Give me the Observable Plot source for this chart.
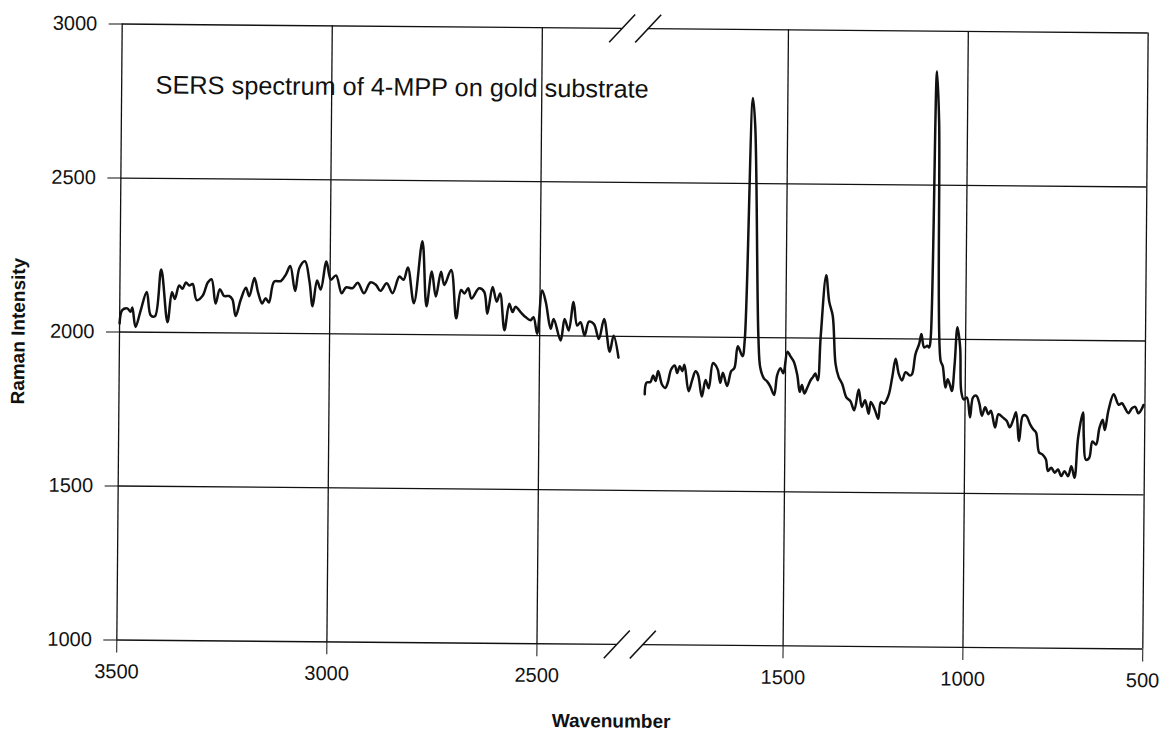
<!DOCTYPE html>
<html><head><meta charset="utf-8">
<script src="https://cdn.jsdelivr.net/npm/d3@7"></script>
<script src="https://cdn.jsdelivr.net/npm/@observablehq/plot@0.6"></script>
<style>html,body{margin:0;padding:0;background:#fff;overflow:hidden}#chart svg{display:block;transform:rotate(0.5deg);transform-origin:632px 336px}</style>
</head><body><div id="chart"></div>
<script>
// High-wavenumber segment (3500 – ~2310 cm-1)
const highWavenumber = [3500,3494,3482,3474,3470,3462,3450,3436,3426,3416,3402,3386,3376,3369,3359,3351,3343,3335,3327,3317,3303,3291,3282,3272,3262,3252,3240,3232,3224,3212,3200,3192,3180,3171,3161,3153,3145,3133,3117,3105,3095,3083,3073,3060,3049,3041,3031,3022,3009,2998,2986,2972,2962,2946,2934,2919,2904,2891,2880,2865,2851,2835,2825,2815,2800,2781,2770,2758,2748,2736,2728,2712,2699,2688,2680,2671,2663,2645,2633,2625,2613,2603,2595,2584,2573,2565,2558,2546,2534,2522,2515,2506,2495,2486,2474,2467,2450,2441,2431,2420,2411,2403,2393,2383,2371,2359,2347,2333,2324,2312];
const highIntensity = [2028,2071,2077,2066,2080,2017,2071,2131,2055,2052,2204,2033,2131,2109,2153,2142,2163,2153,2158,2106,2120,2163,2174,2095,2142,2120,2120,2109,2055,2109,2147,2120,2179,2132,2097,2114,2100,2168,2170,2192,2219,2138,2214,2235,2170,2089,2173,2144,2235,2176,2190,2132,2151,2149,2167,2133,2168,2161,2141,2166,2134,2188,2178,2218,2102,2303,2092,2205,2124,2205,2162,2211,2054,2146,2135,2152,2119,2152,2141,2070,2157,2109,2136,2017,2103,2076,2093,2076,2060,2050,2060,2006,2147,2109,2023,2055,1985,2055,2018,2110,2034,2045,2002,2047,2039,1991,2056,1950,2002,1931];
// Low-wavenumber segment (~1890 – 500 cm-1)
const lowWavenumber = [1894,1886,1875,1868,1861,1854,1843,1834,1827,1818,1808,1801,1794,1787,1781,1769,1759,1750,1743,1732,1722,1713,1702,1695,1688,1681,1674,1662,1651,1642,1633,1620,1614,1597,1590,1576,1570,1560,1551,1542,1531,1523,1514,1506,1495,1486,1477,1467,1460,1454,1447,1440,1430,1423,1417,1410,1403,1389,1380,1370,1361,1352,1342,1330,1319,1308,1296,1287,1278,1268,1262,1250,1241,1234,1225,1213,1203,1194,1185,1176,1166,1154,1148,1139,1129,1123,1115,1106,1101,1097,1086,1079,1069,1063,1055,1049,1043,1037,1030,1023,1015,1011,1004,995,986,978,969,960,953,944,935,928,916,907,895,884,875,865,858,849,839,830,819,810,802,793,784,774,768,759,749,740,731,722,712,703,694,685,672,669,663,654,645,635,626,617,611,601,587,573,564,555,546,536,527,518,508,504];
const lowIntensity = [1813,1851,1853,1874,1856,1889,1845,1834,1851,1894,1907,1883,1905,1889,1910,1824,1861,1889,1878,1807,1861,1834,1916,1910,1894,1852,1885,1842,1890,1901,1971,1939,1992,2778,2687,1998,1901,1868,1858,1842,1814,1879,1901,1885,1955,1939,1923,1879,1825,1847,1820,1836,1863,1874,1885,1863,2004,2204,2118,2073,1917,1874,1852,1808,1797,1767,1834,1778,1800,1756,1794,1767,1740,1794,1789,1816,1876,1935,1886,1865,1892,1881,1886,1951,1984,2016,1973,1978,1973,2006,2870,2709,1930,1913,1843,1870,1854,1832,1919,2039,1973,1832,1805,1811,1747,1812,1818,1791,1753,1780,1758,1769,1715,1758,1748,1737,1716,1743,1765,1672,1754,1754,1727,1710,1700,1635,1629,1613,1575,1586,1570,1580,1559,1575,1559,1591,1554,1683,1766,1683,1613,1618,1672,1662,1716,1743,1710,1775,1826,1792,1797,1781,1765,1781,1786,1765,1781,1792];

const xTicks = [3500, 3000, 2500, 1500, 1000, 500];
const yTicks = [1000, 1500, 2000, 2500, 3000];
const innerGrid = [1500, 2000, 2500];
const frameEdges = [1000, 3000];
const axisBreak = [2310, 1890];   // wavenumbers where the axis is cut
const title = "SERS spectrum of 4-MPP on gold substrate";
const xLabel = "Wavenumber";
const yLabel = "Raman Intensity";

const high = highWavenumber.map((w, i) => ({w, v: highIntensity[i]}));
const low = lowWavenumber.map((w, i) => ({w, v: lowIntensity[i]}));
const slashes = axisBreak.flatMap(w => frameEdges.map(v => ({w, v})));

// broken axis: the two segments each take the same width, with a short cut between them
const brokenAxis = d3.scaleLinear().domain([3500, axisBreak[0], axisBreak[1], 500]).range([0, 500, 526, 1026]);

const slashSymbol = {
  draw(ctx, size) {
    const r = Math.sqrt(size / Math.PI);
    ctx.moveTo(-r * 0.92, r);
    ctx.lineTo(r * 0.92, -r);
  }
};

const ink = "#111";
const chart = Plot.plot({
  width: 1164,
  height: 734,
  marginLeft: 119,
  marginRight: 19,
  marginTop: 28,
  marginBottom: 90,
  style: {fontFamily: "'Liberation Sans', Arial, sans-serif", background: "#fff", color: ink},
  x: {transform: brokenAxis, label: null},
  y: {domain: [1000, 3000], label: null},
  marks: [
    Plot.ruleX(xTicks, {x: d => d, y1: 1000, y2: 3000, stroke: ink, strokeWidth: 1.3}),
    Plot.ruleY(innerGrid, {y: d => d, x1: 3500, x2: 500, stroke: ink, strokeWidth: 1.3}),
    Plot.ruleY(frameEdges, {y: d => d, x1: 3500, x2: axisBreak[0], stroke: ink, strokeWidth: 1.4}),
    Plot.ruleY(frameEdges, {y: d => d, x1: axisBreak[1], x2: 500, stroke: ink, strokeWidth: 1.4}),
    Plot.dot(slashes, {x: "w", y: "v", symbol: slashSymbol, r: 14, fill: "none", stroke: ink, strokeWidth: 1.6}),
    Plot.line(high, {x: "w", y: "v", curve: "catmull-rom", stroke: ink, strokeWidth: 2.5}),
    Plot.line(low, {x: "w", y: "v", curve: "catmull-rom", stroke: ink, strokeWidth: 2.5}),
    Plot.axisX(xTicks, {tickSize: 13, tickPadding: 11, fontSize: 20, tickFormat: d => String(d), label: null, stroke: ink}),
    Plot.axisY(yTicks, {tickSize: 13, tickPadding: 12, fontSize: 20, tickFormat: d => String(d), label: null, stroke: ink}),
    Plot.text([title], {text: d => d, frameAnchor: "top-left", dx: 34, dy: 61, textAnchor: "start", lineAnchor: "middle", fontSize: 25.3, fill: ink}),
    Plot.text([yLabel], {text: d => d, frameAnchor: "left", dx: -101, rotate: -90, textAnchor: "middle", lineAnchor: "middle", fontSize: 19, fontWeight: "bold", fill: ink}),
    Plot.text([xLabel], {text: d => d, frameAnchor: "bottom", dx: -18, dy: 77, textAnchor: "middle", lineAnchor: "middle", fontSize: 19, fontWeight: "bold", fill: ink})
  ]
});
document.getElementById("chart").append(chart);
</script>
</body></html>
